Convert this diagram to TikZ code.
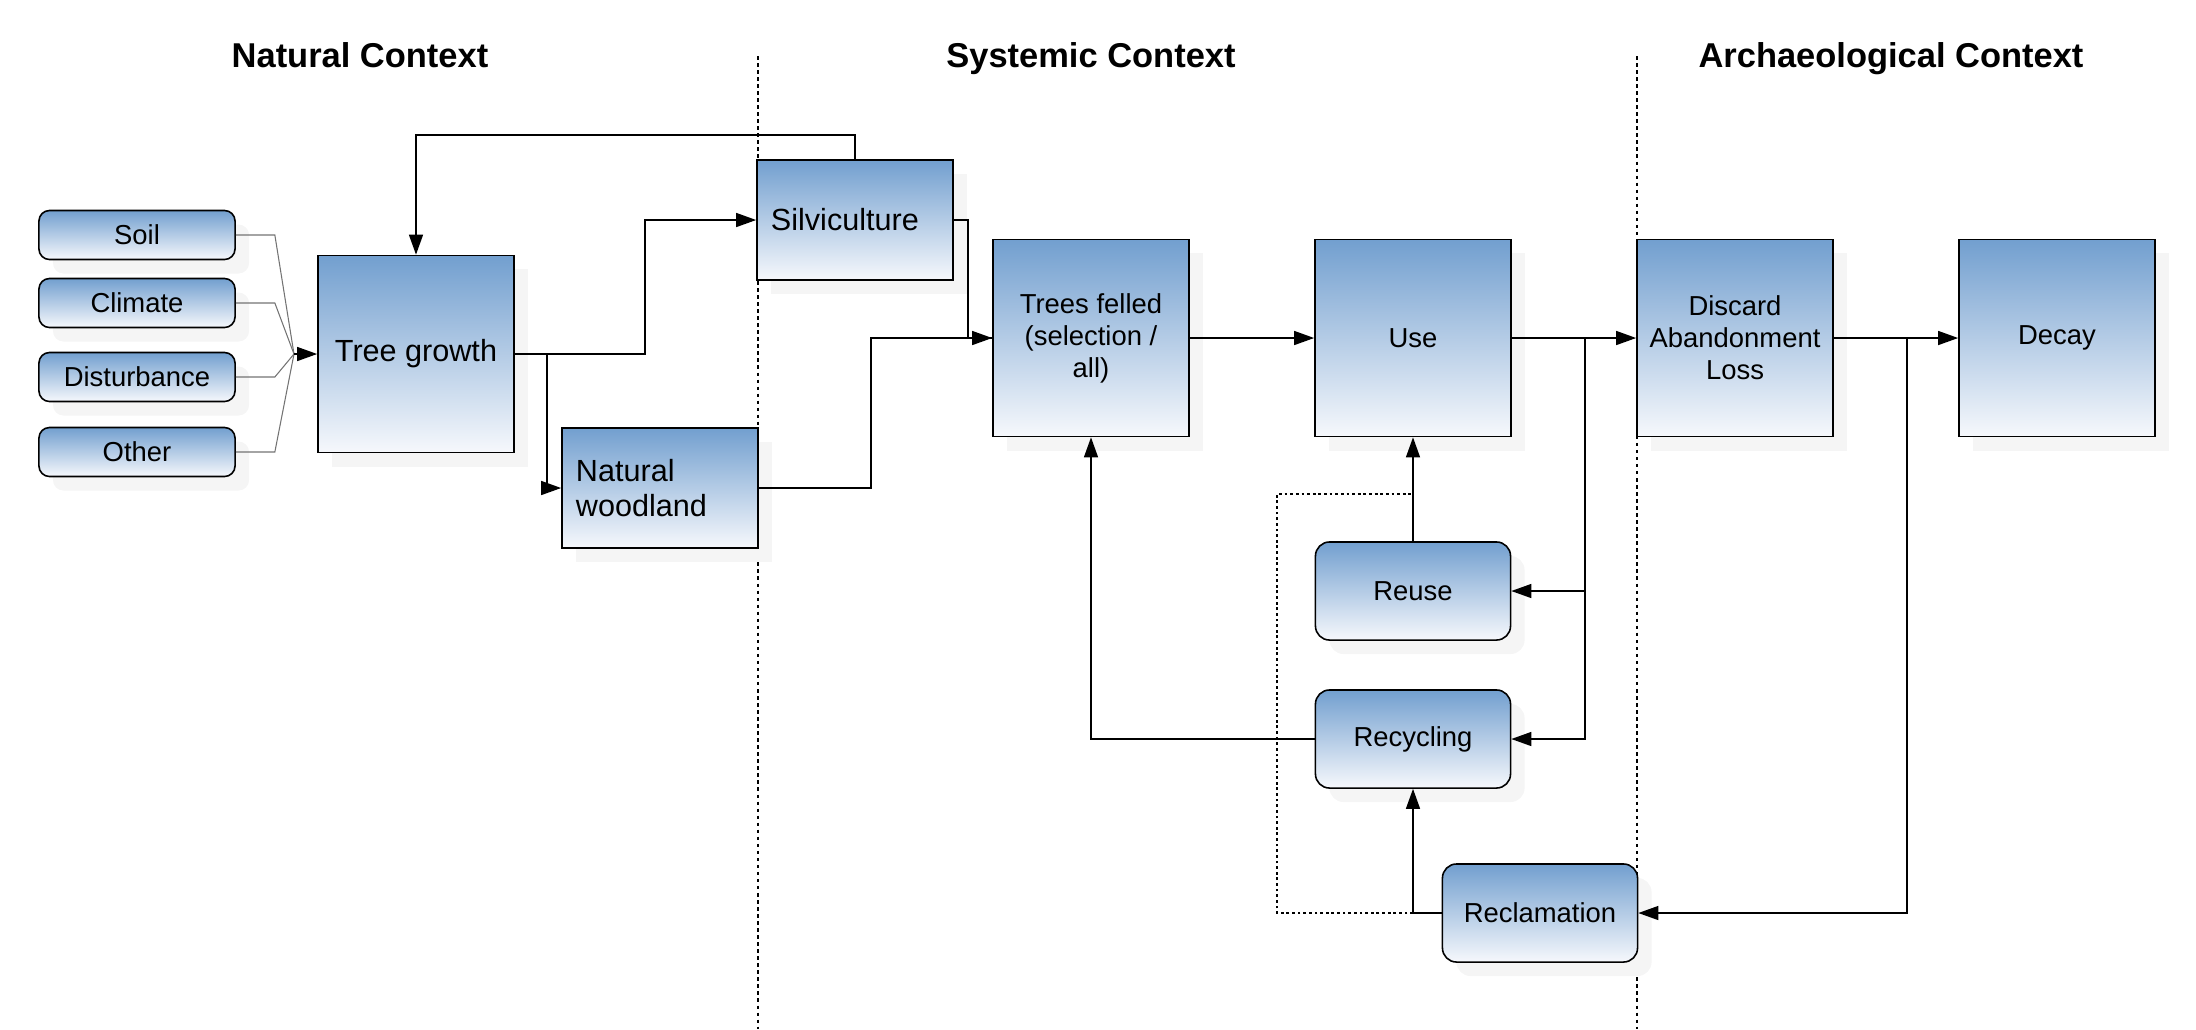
\documentclass[tikz,border=0pt]{standalone}
\usepackage{fontspec}
\setmainfont{Liberation Sans}
\usetikzlibrary{shapes}
\usetikzlibrary{arrows.meta}
\usetikzlibrary{shadows}

\definecolor{boxtop}{RGB}{114,159,207}
\definecolor{boxbottom}{RGB}{246,248,252}

\begin{document}
\begin{tikzpicture}[x=0.01cm,y=-0.01cm]
\tikzstyle{line}=[draw, line width=0.4pt]
\tikzstyle{arrow}=[line, -{Triangle[length=2mm,width=1.4mm]}]
\tikzstyle{feed}=[draw=black!55, line width=0.3pt]
\tikzstyle{divider}=[draw, line width=0.3pt, dash pattern=on 1pt off 1pt]
\tikzstyle{dotline}=[draw, line width=0.35pt, dash pattern=on 0.8pt off 0.8pt]
\tikzstyle{title}=[anchor=base, font=\fontsize{9.8}{12}\selectfont\bfseries]

% Define the base look shared by every box
\tikzstyle{box}=[draw=black, line width=0.45pt, top color=boxtop, bottom color=boxbottom, drop shadow={shadow xshift=1.4mm, shadow yshift=-1.4mm, fill=black!4, opacity=1}]

% Define the factor style for the small rounded input boxes
\tikzstyle{factor}=[box, rectangle, rounded corners=3pt, minimum width=1.96cm, minimum height=0.49cm, font=\fontsize{7.8}{9.2}\selectfont]

% Define the stage style for the big square boxes
\tikzstyle{stage}=[box, rectangle, minimum width=1.96cm, minimum height=1.97cm, align=center, font=\fontsize{7.8}{9.1}\selectfont]

% Define the source style for the wide boxes with left text
\tikzstyle{source}=[box, rectangle, minimum height=1.2cm, text width=1.68cm, inner xsep=1.4mm, align=left, font=\fontsize{8.7}{10}\selectfont]

% Define the loop style for the rounded return boxes
\tikzstyle{loop}=[box, rectangle, rounded corners=4pt, minimum width=1.95cm, minimum height=0.98cm, font=\fontsize{7.8}{9.2}\selectfont]

\useasboundingbox (0,0) rectangle (2196,1029);

% context headings and dividers
\node (natural) [title] at (360,67) {Natural Context};
\node (systemic) [title] at (1091,67) {Systemic Context};
\node (archaeo) [title] at (1891,67) {Archaeological Context};
\draw[divider] (758,56) -- (758,1029);
\draw[divider] (1637,56) -- (1637,1029);

% define the nodes
\node (soil) [factor] at (137,235) {Soil};
\node (climate) [factor] at (137,303) {Climate};
\node (disturb) [factor] at (137,377) {Disturbance};
\node (other) [factor] at (137,452) {Other};
\node (growth) [stage, font=\fontsize{8.7}{10}\selectfont] at (416,354) {Tree growth};
\node (silvi) [source] at (855,220) {Silviculture};
\node (wood) [source] at (660,488) {Natural\\woodland};
\node (felled) [stage] at (1091,338) {Trees felled\\(selection /\\all)};
\node (use) [stage] at (1413,338) {Use};
\node (discard) [stage] at (1735,338) {Discard\\Abandonment\\Loss};
\node (decay) [stage] at (2057,338) {Decay};
\node (reuse) [loop] at (1413,591) {Reuse};
\node (recyc) [loop] at (1413,739) {Recycling};
\node (reclaim) [loop] at (1540,913) {Reclamation};
\coordinate (merge) at (294,354);

% define the arrows between the nodes
\draw[feed] (soil.east) -- ++(39,0) -- (merge);
\draw[feed] (climate.east) -- ++(39,0) -- (merge);
\draw[feed] (disturb.east) -- ++(39,0) -- (merge);
\draw[feed] (other.east) -- ++(39,0) -- (merge);
\draw[arrow] (merge) -- (growth.west);
\draw[arrow] (silvi.north) -- ++(0,-24) -| (growth.north);
\draw[arrow] (growth.east) -- ++(130,0) |- (silvi.west);
\draw[arrow] ([xshift=0.32cm]growth.east) |- (wood.west);
\draw[arrow] (wood.east) -- ++(112,0) |- (felled.west);
\draw[line] (silvi.east) -- ++(14,0) |- (felled.west);
\draw[arrow] (felled) -- (use);
\draw[arrow] (use) -- (discard);
\draw[arrow] ([xshift=0.73cm]use.east) |- (reuse.east);
\draw[arrow] ([xshift=0.73cm]use.east) |- (recyc.east);
\draw[arrow] (discard) -- (decay);
\draw[arrow] ([xshift=0.73cm]discard.east) |- (reclaim.east);
\draw[arrow] (reuse) -- (use);
\draw[arrow] (reclaim.west) -| (recyc.south);
\draw[arrow] (recyc.west) -| (felled.south);
\draw[dotline] (reclaim.west -| recyc.south) -- ++(-136,0) -- ++(0,-419) -- ++(136,0);

\end{tikzpicture}
\end{document}
